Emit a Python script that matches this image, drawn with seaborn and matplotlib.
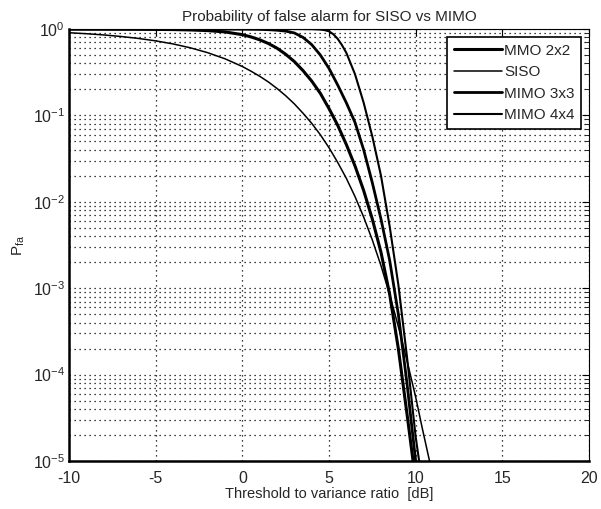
import numpy as np
import pandas as pd
import matplotlib
matplotlib.use("Agg")
import matplotlib.pyplot as plt
import seaborn as sns

# values (threshold in dB, Pfa)
x_siso = [-10, -9, -8, -7, -6, -5, -4, -3, -2, -1, 0, 0.5, 1, 1.5, 2, 2.5, 3, 3.5, 4, 4.5,
          5, 5.5, 6, 6.5, 7, 7.5, 8, 8.5, 9, 9.5, 10, 10.4, 10.8]
p_siso = [0.905, 0.882, 0.854, 0.819, 0.778, 0.729, 0.672, 0.606, 0.532, 0.452, 0.368, 0.325,
          0.284, 0.244, 0.205, 0.169, 0.136, 0.106, 0.0811, 0.0597, 0.0423, 0.0286, 0.0187,
          0.0115, 6.66e-3, 3.61e-3, 1.82e-3, 8.4e-4, 3.6e-4, 1.45e-4, 5.5e-5, 2.3e-5, 1.0e-5]

x_2x2 = [-10, -6, -4, -3, -2, -1, 0, 0.5, 1, 1.5, 2, 2.5, 3, 3.5, 4, 4.5, 5, 5.5, 6, 6.5,
         7, 7.5, 8, 8.5, 9, 9.5, 9.85]
p_2x2 = [0.998, 0.993, 0.985, 0.975, 0.958, 0.925, 0.86, 0.81, 0.75, 0.68, 0.6, 0.51, 0.42,
         0.33, 0.25, 0.18, 0.12, 0.077, 0.046, 0.026, 0.0135, 6.3e-3, 2.6e-3, 8.5e-4,
         2.0e-4, 3.5e-5, 1.0e-5]

x_3x3 = [-10, -4, 0, 1, 1.5, 2, 2.5, 3, 3.5, 4, 4.5, 5, 5.5, 6, 6.5, 7, 7.5, 8, 8.5, 9,
         9.5, 10]
p_3x3 = [1.0, 0.9995, 0.996, 0.99, 0.982, 0.968, 0.945, 0.9, 0.8, 0.66, 0.5, 0.35, 0.225,
         0.14, 0.083, 0.04, 0.0166, 6.3e-3, 2.1e-3, 5e-4, 7.9e-5, 1.0e-5]

x_4x4 = [-10, 0, 3, 4, 4.5, 4.75, 5, 5.25, 5.5, 5.75, 6, 6.5, 7, 7.5, 8, 8.5, 9, 9.5, 10, 10.2]
p_4x4 = [1.0, 0.9998, 0.999, 0.995, 0.985, 0.97, 0.94, 0.87, 0.77, 0.65, 0.53, 0.3, 0.14,
         0.057, 0.02, 5.2e-3, 1.1e-3, 1.6e-4, 1.9e-5, 1.0e-5]

labels = ["MMO 2x2", "SISO", "MIMO 3x3", "MIMO 4x4"]
widths = [2.2, 1.1, 2.0, 1.5]

sns.set_style("white")
plt.rcParams['font.family'] = ['Liberation Sans', 'DejaVu Sans']
plt.rcParams['axes.unicode_minus'] = False
plt.rcParams['mathtext.fontset'] = 'custom'
plt.rcParams['mathtext.rm'] = 'Liberation Sans'
plt.rcParams['mathtext.it'] = 'Liberation Sans'

fig = plt.figure(figsize=(6.01, 5.09), dpi=100)
ax = fig.add_axes([69 / 601, 1 - 461 / 509, 520 / 601, 432 / 509])

curves = [(x_2x2, p_2x2), (x_siso, p_siso), (x_3x3, p_3x3), (x_4x4, p_4x4)]
for (xs, ps), lab, lw in zip(curves, labels, widths):
    df = pd.DataFrame({"x": xs, "p": ps})
    sns.lineplot(data=df, x="x", y="p", ax=ax, color="black", linewidth=lw,
                 label=lab, sort=False, estimator=None, solid_joinstyle="round")

ax.set_yscale("log")
ax.set_xlim(-10, 20)
ax.set_ylim(1e-5, 1)
ax.set_xticks([-10, -5, 0, 5, 10, 15, 20])
ax.set_yticks([1e-5, 1e-4, 1e-3, 1e-2, 1e-1, 1e0])
ax.set_yticklabels([r"$10^{-5}$", r"$10^{-4}$", r"$10^{-3}$", r"$10^{-2}$", r"$10^{-1}$", r"$10^{0}$"])
ax.yaxis.set_minor_locator(matplotlib.ticker.LogLocator(base=10, subs=np.arange(2, 10)))
ax.yaxis.set_minor_formatter(matplotlib.ticker.NullFormatter())

ax.grid(True, which="major", color="black", linestyle=(0, (1, 3)), linewidth=0.9)
ax.grid(True, which="minor", axis="y", color="black", linestyle=(0, (1, 3)), linewidth=0.9)
ax.tick_params(which="both", direction="in", top=True, right=True, color="black")
ax.tick_params(axis="x", labelsize=11.5, pad=7)
ax.tick_params(axis="y", labelsize=11.5, pad=3)
ax.tick_params(which="major", length=5)
ax.tick_params(which="minor", length=3)
for side in ["left", "bottom"]:
    ax.spines[side].set_linewidth(1.8)
for side in ["top", "right"]:
    ax.spines[side].set_linewidth(0.8)
for s in ax.spines.values():
    s.set_color("black")

ax.set_title("Probability of false alarm for SISO vs MIMO", fontsize=11)
ax.set_xlabel("Threshold to variance ratio  [dB]", fontsize=10.5, labelpad=1)
ax.set_ylabel(r"P$_{\mathrm{fa}}$", fontsize=11)

leg = ax.legend(loc="upper right", fontsize=11, frameon=True, fancybox=False,
                edgecolor="black", framealpha=1, handlelength=3.1, borderpad=0.45,
                labelspacing=0.5, handletextpad=0.15, borderaxespad=0.5)
leg.get_frame().set_linewidth(1.2)

fig.savefig("out.png", dpi=100)
